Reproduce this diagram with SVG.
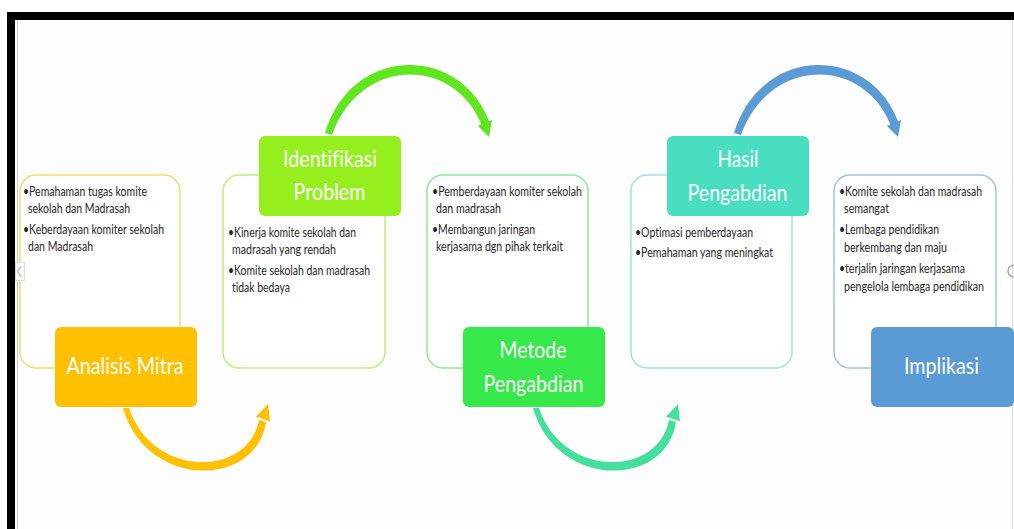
<svg xmlns="http://www.w3.org/2000/svg" width="1014" height="529" viewBox="0 0 1014 529">
<style>
.box{fill:#fff;stroke-width:1.5}
.lab{stroke:none}
.b{font-family:Lato,"Liberation Sans",sans-serif;font-size:13px;fill:#262626;font-variant-ligatures:none}
.l{font-family:Lato,"Liberation Sans",sans-serif;font-size:23px;fill:#fff;text-anchor:middle;font-variant-ligatures:none}
</style>
<rect x="0" y="0" width="1014" height="529" fill="#fff"/>
<rect x="15" y="20" width="999" height="509" fill="#fdfdfd"/>
<rect x="7" y="12" width="1007" height="8" fill="#000"/>
<rect x="7" y="12" width="8" height="517" fill="#000"/>
<line x1="17.5" y1="20" x2="17.5" y2="529" stroke="#c8c8c8" stroke-width="1"/>
<line x1="1012.5" y1="20" x2="1012.5" y2="529" stroke="#dcdcdc" stroke-width="1"/>

<g id="node-analisis-mitra">
<rect class="box" x="20" y="175" width="160" height="193" rx="16" stroke="#ffd966"/>
<rect class="lab" x="55" y="327" width="142" height="80" rx="6" fill="#ffc000"/>
<text class="l" x="125" y="374" textLength="117" lengthAdjust="spacingAndGlyphs">Analisis Mitra</text>
<text class="b" x="23" y="196" textLength="124" lengthAdjust="spacingAndGlyphs">•Pemahaman tugas komite</text>
<text class="b" x="28" y="213" textLength="102" lengthAdjust="spacingAndGlyphs">sekolah dan Madrasah</text>
<text class="b" x="23" y="233.5" textLength="141" lengthAdjust="spacingAndGlyphs">•Keberdayaan komiter sekolah</text>
<text class="b" x="28" y="251" textLength="65" lengthAdjust="spacingAndGlyphs">dan Madrasah</text>
</g>

<g id="node-identifikasi-problem">
<rect class="box" x="223" y="175" width="162" height="193" rx="16" stroke="#b8f27a"/>
<rect class="lab" x="259" y="136" width="142" height="80" rx="6" fill="#95ef1f"/>
<text class="l" x="330" y="167" textLength="94" lengthAdjust="spacingAndGlyphs">Identifikasi</text>
<text class="l" x="329.5" y="200" textLength="72" lengthAdjust="spacingAndGlyphs">Problem</text>
<text class="b" x="228" y="237" textLength="128" lengthAdjust="spacingAndGlyphs">•Kinerja komite sekolah dan</text>
<text class="b" x="232" y="254" textLength="104" lengthAdjust="spacingAndGlyphs">madrasah yang rendah</text>
<text class="b" x="228" y="274.5" textLength="142" lengthAdjust="spacingAndGlyphs">•Komite sekolah dan madrasah</text>
<text class="b" x="232" y="292" textLength="58" lengthAdjust="spacingAndGlyphs">tidak bedaya</text>
</g>

<g id="node-metode-pengabdian">
<rect class="box" x="427" y="175" width="161" height="193" rx="16" stroke="#8ceb96"/>
<rect class="lab" x="463" y="327" width="142" height="80" rx="6" fill="#36e84a"/>
<text class="l" x="533" y="358" textLength="67" lengthAdjust="spacingAndGlyphs">Metode</text>
<text class="l" x="533.5" y="391.5" textLength="100" lengthAdjust="spacingAndGlyphs">Pengabdian</text>
<text class="b" x="432" y="196" textLength="150" lengthAdjust="spacingAndGlyphs">•Pemberdayaan komiter sekolah</text>
<text class="b" x="436" y="213" textLength="65" lengthAdjust="spacingAndGlyphs">dan madrasah</text>
<text class="b" x="432" y="233.5" textLength="103" lengthAdjust="spacingAndGlyphs">•Membangun jaringan</text>
<text class="b" x="436" y="251" textLength="127" lengthAdjust="spacingAndGlyphs">kerjasama dgn pihak terkait</text>
</g>

<g id="node-hasil-pengabdian">
<rect class="box" x="631" y="175" width="161" height="193" rx="16" stroke="#9ae8d8"/>
<rect class="lab" x="667" y="136" width="142" height="80" rx="6" fill="#4adec0"/>
<text class="l" x="738" y="167" textLength="41" lengthAdjust="spacingAndGlyphs">Hasil</text>
<text class="l" x="737.5" y="200.5" textLength="100" lengthAdjust="spacingAndGlyphs">Pengabdian</text>
<text class="b" x="635" y="237" textLength="118" lengthAdjust="spacingAndGlyphs">•Optimasi pemberdayaan</text>
<text class="b" x="635" y="256.5" textLength="138" lengthAdjust="spacingAndGlyphs">•Pemahaman yang meningkat</text>
</g>

<g id="node-implikasi">
<rect class="box" x="834" y="175" width="162" height="193" rx="16" stroke="#9dc3e6"/>
<rect class="lab" x="871" y="327" width="143" height="80" rx="6" fill="#5b9bd5"/>
<text class="l" x="941.5" y="374" textLength="75" lengthAdjust="spacingAndGlyphs">Implikasi</text>
<text class="b" x="839" y="195.5" textLength="143" lengthAdjust="spacingAndGlyphs">•Komite sekolah dan madrasah</text>
<text class="b" x="844" y="213" textLength="45" lengthAdjust="spacingAndGlyphs">semangat</text>
<text class="b" x="839" y="234" textLength="100" lengthAdjust="spacingAndGlyphs">•Lembaga pendidikan</text>
<text class="b" x="844" y="251.5" textLength="103" lengthAdjust="spacingAndGlyphs">berkembang dan maju</text>
<text class="b" x="839" y="272.5" textLength="126" lengthAdjust="spacingAndGlyphs">•terjalin jaringan kerjasama</text>
<text class="b" x="844" y="290.5" textLength="140" lengthAdjust="spacingAndGlyphs">pengelola lembaga pendidikan</text>
</g>

<g id="connectors">
<g fill="#ffc000">
<path d="M123 408 C146 489 256 489 266 422 L259 420 C248 478 152 478 129 408 Z"/>
<polygon points="268,404 256,416.5 270,421.5"/>
</g>
<g fill="#5fe61e">
<path d="M325 133 C352 44 462 44 490 124 L482 126 C455 56 360 56 332 135 Z"/>
<polygon points="489,137 478,126 492,120"/>
</g>
<g fill="#45df9d" transform="translate(410 0)">
<path d="M123 408 C146 489 256 489 266 422 L259 420 C248 478 152 478 129 408 Z"/>
<polygon points="268,404 256,416.5 270,421.5"/>
</g>
<g fill="#5b9bd5" transform="translate(409 0)">
<path d="M325 133 C352 44 462 44 490 124 L482 126 C455 56 360 56 332 135 Z"/>
<polygon points="489,137 478,126 492,120"/>
</g>
</g>

<rect x="15.5" y="262.5" width="9" height="18" fill="#fff" stroke="#dcdcdc"/>
<polyline points="21,266.5 17.5,271.5 21,276.5" fill="none" stroke="#999" stroke-width="1"/>
<path d="M1014 265 A6 6 0 0 0 1014 277" fill="none" stroke="#999" stroke-width="1.2"/>
</svg>
